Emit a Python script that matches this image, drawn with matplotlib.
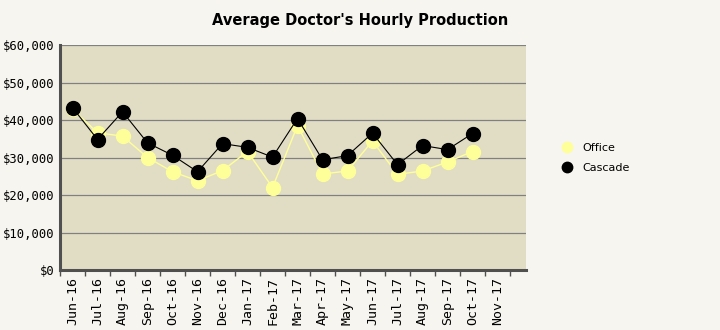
import matplotlib
matplotlib.use("Agg")
import matplotlib.pyplot as plt
from matplotlib.ticker import FixedLocator, FuncFormatter

months = ["Jun-16", "Jul-16", "Aug-16", "Sep-16", "Oct-16", "Nov-16", "Dec-16",
          "Jan-17", "Feb-17", "Mar-17", "Apr-17", "May-17", "Jun-17", "Jul-17",
          "Aug-17", "Sep-17", "Oct-17", "Nov-17"]
office = [42900, 36600, 35700, 30000, 26200, 23800, 26500, 31600, 22000,
          38500, 25600, 26400, 34400, 25500, 26400, 28800, 31600]
cascade = [43300, 34800, 42200, 33900, 30600, 26200, 33700, 32700, 30100,
           40400, 29400, 30500, 36500, 28100, 33200, 32100, 36400]

fig = plt.figure(figsize=(7.2, 3.3), dpi=100, facecolor="#f7f5ef")
ax = fig.add_axes([60 / 720, 1 - 270 / 330, 466 / 720, 225 / 330])
ax.set_facecolor("#e1ddc5")

x_off = list(range(len(office)))
x_cas = list(range(len(cascade)))
ax.plot(x_off, office, color="#ffff99", lw=1, marker="o", ms=10,
        markerfacecolor="#ffff99", markeredgecolor="#ffff99", zorder=3, label="Office")
ax.plot(x_cas, cascade, color="black", lw=0.8, marker="o", ms=10,
        markerfacecolor="black", markeredgecolor="black", zorder=4, label="Cascade")

ax.set_ylim(0, 60000)
ax.set_xlim(-0.5, 18.14)
ax.set_yticks(range(0, 60001, 10000))
ax.yaxis.set_major_formatter(FuncFormatter(lambda v, p: f"${int(v):,}"))
ax.yaxis.grid(True, color="#808080", lw=0.9)
ax.set_axisbelow(True)

mono = "DejaVu Sans Mono"
ax.set_xticks(range(len(months)))
ax.set_xticklabels(months, rotation=90, fontsize=9.5, family=mono)
ax.xaxis.set_minor_locator(FixedLocator([i - 0.5 for i in range(len(months) + 1)]))
ax.tick_params(axis="x", which="major", length=0, pad=5)
ax.tick_params(axis="x", which="minor", length=4, color="#505050", width=1)
ax.tick_params(axis="y", length=0, labelsize=8.8, pad=4)
for lbl in ax.get_yticklabels():
    lbl.set_family(mono)

for s in ("top", "right"):
    ax.spines[s].set_visible(False)
ax.spines["left"].set_color("#505050")
ax.spines["left"].set_linewidth(2.2)
ax.spines["bottom"].set_color("#505050")
ax.spines["bottom"].set_linewidth(2.2)

fig.text(0.5, 1 - 20 / 330, "Average Doctor's Hourly Production", ha="center",
         va="center", fontsize=10.5, fontweight="bold")

fig.legend(loc="center left", bbox_to_anchor=(550 / 720, 1 - 158 / 330),
           frameon=False, fontsize=8, handlelength=1.2, markerscale=0.75,
           handletextpad=0.8, labelspacing=0.9)
for h in fig.legends[0].get_lines():
    h.set_linestyle("none")

fig.savefig("out.png", dpi=100, facecolor=fig.get_facecolor())
